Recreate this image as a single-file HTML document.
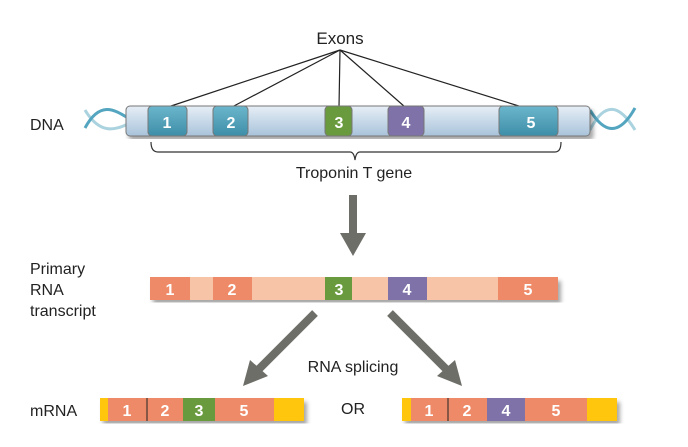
<!DOCTYPE html><html><head><style>body{margin:0;background:#fff}svg text{font-family:"Liberation Sans",sans-serif}</style></head><body>
<svg width="688" height="442" viewBox="0 0 688 442">
<defs><linearGradient id="g" x1="0" y1="0" x2="0" y2="1"><stop offset="0" stop-color="#e6eef6"/><stop offset="1" stop-color="#a9c3da"/></linearGradient>
<linearGradient id="b" x1="0" y1="0" x2="0" y2="1"><stop offset="0" stop-color="#6bb6cc"/><stop offset="1" stop-color="#3e8ea8"/></linearGradient>
<filter id="s"><feDropShadow dx="3" dy="4" stdDeviation="2" flood-opacity="0.35"/></filter></defs>
<text x="340" y="44" font-size="17" text-anchor="middle" fill="#222">Exons</text>
<g stroke="#222" stroke-width="1.2"><line x1="340" y1="50" x2="168" y2="107"/><line x1="340" y1="50" x2="232" y2="107"/><line x1="340" y1="50" x2="339" y2="107"/><line x1="340" y1="50" x2="405" y2="107"/><line x1="340" y1="50" x2="522" y2="107"/></g>
<g stroke="#2a8fb0" stroke-width="3" fill="none" opacity="0.8"><path d="M85 128 C100 100 115 110 128 118"/><path d="M85 110 C100 135 115 130 128 124" opacity="0.5"/><path d="M590 110 C605 135 620 135 635 108"/><path d="M590 130 C605 100 620 105 635 130" opacity="0.5"/></g>
<text x="30" y="130" font-size="16" fill="#222">DNA</text>
<g filter="url(#s)"><rect x="126" y="106" width="464" height="30" rx="4" fill="url(#g)" stroke="#777"/></g>
<g stroke="#777"><rect x="148" y="106" width="39" height="30" rx="4" fill="url(#b)"/><rect x="213" y="106" width="35" height="30" rx="4" fill="url(#b)"/><rect x="325" y="106" width="27" height="30" rx="4" fill="#6a9a3e"/><rect x="388" y="106" width="36" height="30" rx="4" fill="#7f72a8"/><rect x="499" y="106" width="59" height="30" rx="4" fill="url(#b)"/></g>
<g fill="#fff" font-size="16" font-weight="bold" text-anchor="middle"><text x="167" y="128">1</text><text x="231" y="128">2</text><text x="339" y="128">3</text><text x="406" y="128">4</text><text x="531" y="128">5</text></g>
<path d="M151 142 Q151 152 158 152 L350 152 Q354 152 355 160 Q356 152 360 152 L555 152 Q561 152 561 142" fill="none" stroke="#333" stroke-width="1.2"/>
<text x="354" y="178" font-size="16" text-anchor="middle" fill="#222">Troponin T gene</text>
<rect x="349" y="195" width="8" height="40" fill="#6d6e68"/><polygon points="340,233 366,233 353,256" fill="#6d6e68"/>
<text x="30" y="274" font-size="16" fill="#222">Primary</text><text x="30" y="295" font-size="16" fill="#222">RNA</text><text x="30" y="316" font-size="16" fill="#222">transcript</text>
<g filter="url(#s)"><rect x="150" y="277" width="408" height="23" fill="#f7c4a8"/></g>
<rect x="150" y="277" width="40" height="23" fill="#ee8a67"/><rect x="213" y="277" width="39" height="23" fill="#ee8a67"/><rect x="325" y="277" width="27" height="23" fill="#6a9a3e"/><rect x="388" y="277" width="39" height="23" fill="#7f72a8"/><rect x="498" y="277" width="60" height="23" fill="#ee8a67"/>
<g fill="#fff" font-size="16" font-weight="bold" text-anchor="middle"><text x="170" y="295">1</text><text x="232" y="295">2</text><text x="339" y="295">3</text><text x="407" y="295">4</text><text x="528" y="295">5</text></g>
<line x1="315" y1="313" x2="258" y2="370" stroke="#6d6e68" stroke-width="8"/><polygon points="243,386 250,360 268,376" fill="#6d6e68"/>
<line x1="390" y1="313" x2="447" y2="370" stroke="#6d6e68" stroke-width="8"/><polygon points="462,386 437,376 455,360" fill="#6d6e68"/>
<text x="353" y="372" font-size="16" text-anchor="middle" fill="#222">RNA splicing</text>
<text x="30" y="416" font-size="16" fill="#222">mRNA</text>
<text x="353" y="414" font-size="16" text-anchor="middle" fill="#222">OR</text>
<g filter="url(#s)"><rect x="100" y="398" width="204" height="23" fill="#ffc60b"/><rect x="402" y="398" width="215" height="23" fill="#ffc60b"/></g>
<rect x="108" y="398" width="166" height="23" fill="#ee8a67"/><rect x="183" y="398" width="32" height="23" fill="#6a9a3e"/>
<rect x="411" y="398" width="176" height="23" fill="#ee8a67"/><rect x="487" y="398" width="38" height="23" fill="#7f72a8"/>
<line x1="147" y1="398" x2="147" y2="421" stroke="#222"/><line x1="448" y1="398" x2="448" y2="421" stroke="#222"/>
<g fill="#fff" font-size="16" font-weight="bold" text-anchor="middle"><text x="127" y="416">1</text><text x="165" y="416">2</text><text x="199" y="416">3</text><text x="244" y="416">5</text><text x="429" y="416">1</text><text x="467" y="416">2</text><text x="506" y="416">4</text><text x="556" y="416">5</text></g>
</svg></body></html>
